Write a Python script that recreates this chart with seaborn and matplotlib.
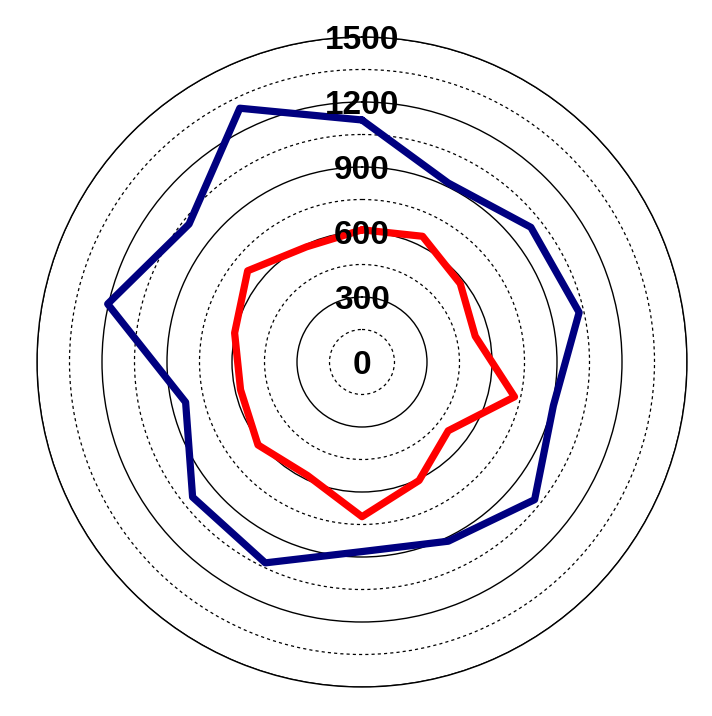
import numpy as np
import pandas as pd
import seaborn as sns
import matplotlib.pyplot as plt

sns.set_theme(style="white")
plt.rcParams['font.family'] = ['Liberation Sans', 'DejaVu Sans']

# values read clockwise from the top, 14 directions
blue_vals = [1117, 917, 997, 1028, 906, 1019, 918, 875, 1029, 1000, 835, 1204, 1021, 1300]
red_vals = [610, 644, 580, 536, 722, 509, 607, 714, 581, 614, 575, 603, 675, 590]
ring_labels = [0, 300, 600, 900, 1200, 1500]
minor_rings = [150, 450, 750, 1050, 1350]

n = len(blue_vals)
theta = np.linspace(0, 2 * np.pi, n, endpoint=False)
theta_closed = np.append(theta, 2 * np.pi)

df = pd.DataFrame({
    'theta': np.concatenate([theta_closed, theta_closed]),
    'value': blue_vals + blue_vals[:1] + red_vals + red_vals[:1],
    'serie': ['blue'] * (n + 1) + ['red'] * (n + 1),
})

fig = plt.figure(figsize=(7.12, 7.16), dpi=100)
ax = fig.add_axes([37 / 712, 29 / 716, 650 / 712, 650 / 716], projection='polar')
ax.set_theta_zero_location('N')
ax.set_theta_direction(-1)
ax.set_ylim(0, 1500)

ax.set_yticks(ring_labels[1:])
ax.set_yticks(minor_rings, minor=True)
ax.set_xticks([])
ax.set_yticklabels([])
ax.yaxis.grid(True, which='major', color='black', linestyle='-', linewidth=1.0)
ax.yaxis.grid(True, which='minor', color='black', linestyle=(0, (2.5, 2.5)), linewidth=0.9)
ax.xaxis.grid(False)
ax.spines['polar'].set_color('black')
ax.spines['polar'].set_linewidth(1.0)
ax.tick_params(which='both', length=0)

sns.lineplot(data=df[df['serie'] == 'blue'], x='theta', y='value', sort=False,
             color='#000080', linewidth=5.2, ax=ax, zorder=3)
sns.lineplot(data=df[df['serie'] == 'red'], x='theta', y='value', sort=False,
             color='#ff0000', linewidth=5.2, ax=ax, zorder=3)
ax.set_xlabel('')
ax.set_ylabel('')

for v in ring_labels:
    ax.text(0, v, str(v), ha='center', va='center_baseline', fontsize=24,
            fontweight='bold', color='black', zorder=5)

plt.savefig('out.png', dpi=100)
plt.close()
